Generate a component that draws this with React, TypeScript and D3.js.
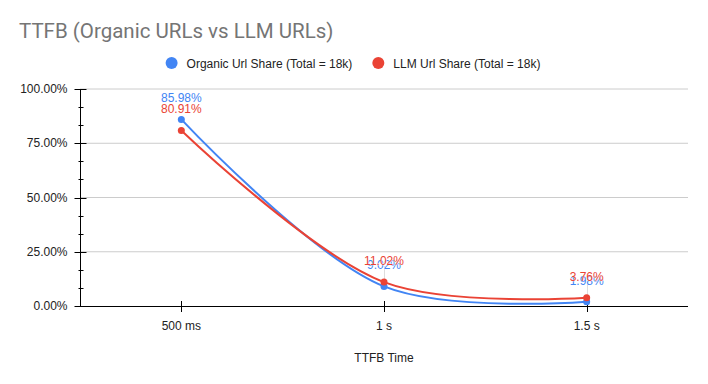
import React, { useEffect, useRef } from 'react';
import * as d3 from 'd3';

const categories = ['500 ms', '1 s', '1.5 s'];
const organicShare = [85.98, 9.02, 1.98];
const llmShare = [80.91, 11.02, 3.76];
const yTicks = [0, 25, 50, 75, 100];

const seriesList = [
  { name: 'Organic Url Share (Total = 18k)', values: organicShare, color: '#4285f4' },
  { name: 'LLM Url Share (Total = 18k)', values: llmShare, color: '#ea4335' },
];

const App = () => {
  const svgRef = useRef<SVGSVGElement>(null);

  useEffect(() => {
    const svg = d3.select(svgRef.current);
    svg.selectAll('*').remove();

    const width = 708;
    const height = 384;
    const margin = { top: 89, right: 20, bottom: 78, left: 80 };
    const font = 'Arial, "Liberation Sans", sans-serif';

    const x = d3.scalePoint<string>()
      .domain(categories)
      .range([margin.left, width - margin.right])
      .padding(0.5);

    const y = d3.scaleLinear()
      .domain([0, 100])
      .range([height - margin.bottom, margin.top]);

    svg.attr('width', width).attr('height', height);

    // title
    svg.append('text')
      .attr('x', 19)
      .attr('y', 38)
      .attr('font-family', 'Roboto, Arial, sans-serif')
      .attr('font-size', 20.5)
      .attr('fill', '#757575')
      .text('TTFB (Organic URLs vs LLM URLs)');

    // legend
    const legend = svg.append('g');
    let lx = 0;
    seriesList.forEach(s => {
      const item = legend.append('g').attr('transform', `translate(${lx},0)`);
      item.append('circle').attr('cx', 6).attr('cy', 0).attr('r', 6).attr('fill', s.color);
      const t = item.append('text')
        .attr('x', 21)
        .attr('y', 4.5)
        .attr('font-family', font)
        .attr('font-size', 12)
        .attr('fill', '#222')
        .text(s.name);
      const w = (t.node() as SVGTextElement).getComputedTextLength();
      lx += 21 + w + 20;
    });
    const legendWidth = lx - 20;
    legend.attr('transform', `translate(${(width - legendWidth) / 2 - 1},63)`);

    // gridlines
    svg.append('g')
      .selectAll('line')
      .data(yTicks.filter(d => d > 0))
      .join('line')
      .attr('x1', margin.left)
      .attr('x2', width - margin.right)
      .attr('y1', d => y(d))
      .attr('y2', d => y(d))
      .attr('stroke', '#cccccc')
      .attr('stroke-width', 1);

    // y axis
    const yAxis = svg.append('g').attr('transform', `translate(${margin.left + 0.5},0)`);
    yAxis.append('line')
      .attr('y1', y(100))
      .attr('y2', y(0))
      .attr('stroke', '#000');
    const minor = d3.range(0, 100, 25 / 3).filter((d, i) => i % 3 !== 0);
    yAxis.selectAll('line.minor')
      .data(minor)
      .join('line')
      .attr('class', 'minor')
      .attr('x1', -2)
      .attr('x2', 3)
      .attr('y1', d => Math.round(y(d)) + 0.5)
      .attr('y2', d => Math.round(y(d)) + 0.5)
      .attr('stroke', '#000');
    yAxis.selectAll('line.major')
      .data(yTicks)
      .join('line')
      .attr('class', 'major')
      .attr('x1', -6)
      .attr('x2', 6)
      .attr('y1', d => Math.round(y(d)) + 0.5)
      .attr('y2', d => Math.round(y(d)) + 0.5)
      .attr('stroke', '#000');
    yAxis.selectAll('text')
      .data(yTicks)
      .join('text')
      .attr('x', -13)
      .attr('y', d => y(d) + 4)
      .attr('text-anchor', 'end')
      .attr('font-family', font)
      .attr('font-size', 12)
      .attr('fill', '#222')
      .text(d => `${d.toFixed(2)}%`);

    // x axis
    const xAxis = svg.append('g');
    xAxis.append('line')
      .attr('x1', margin.left)
      .attr('x2', width - margin.right)
      .attr('y1', y(0) + 0.5)
      .attr('y2', y(0) + 0.5)
      .attr('stroke', '#000');
    xAxis.selectAll('line.tick')
      .data(categories)
      .join('line')
      .attr('class', 'tick')
      .attr('x1', d => Math.round(x(d)!) + 0.5)
      .attr('x2', d => Math.round(x(d)!) + 0.5)
      .attr('y1', y(0) - 5)
      .attr('y2', y(0) + 6)
      .attr('stroke', '#000');
    xAxis.selectAll('text')
      .data(categories)
      .join('text')
      .attr('x', d => x(d)!)
      .attr('y', y(0) + 24)
      .attr('text-anchor', 'middle')
      .attr('font-family', font)
      .attr('font-size', 12)
      .attr('fill', '#222')
      .text(d => d);

    svg.append('text')
      .attr('x', (margin.left + width - margin.right) / 2)
      .attr('y', 362)
      .attr('text-anchor', 'middle')
      .attr('font-family', font)
      .attr('font-size', 12)
      .attr('fill', '#222')
      .text('TTFB Time');

    // leader lines for crowded labels
    svg.append('g')
      .selectAll('line')
      .data(categories.slice(1))
      .join('line')
      .attr('x1', d => Math.round(x(d)!) + 0.5)
      .attr('x2', d => Math.round(x(d)!) + 0.5)
      .attr('y1', (d, i) => y(llmShare[i + 1]) - 16)
      .attr('y2', (d, i) => y(organicShare[i + 1]))
      .attr('stroke', '#dddddd')
      .attr('stroke-width', 1);

    const line = d3.line<number>()
      .x((d, i) => x(categories[i])!)
      .y(d => y(d))
      .curve(d3.curveCatmullRom.alpha(0.5));

    seriesList.forEach(s => {
      svg.append('path')
        .datum(s.values)
        .attr('d', line)
        .attr('fill', 'none')
        .attr('stroke', s.color)
        .attr('stroke-width', 2);
    });

    seriesList.forEach(s => {
      svg.append('g')
        .selectAll('circle')
        .data(s.values)
        .join('circle')
        .attr('cx', (d, i) => x(categories[i])!)
        .attr('cy', d => y(d))
        .attr('r', 3.5)
        .attr('fill', s.color);
    });

    // organic labels first so the LLM labels sit on top, as in the source
    seriesList.forEach(s => {
      svg.append('g')
        .selectAll('text')
        .data(s.values)
        .join('text')
        .attr('x', (d, i) => x(categories[i])!)
        .attr('y', d => y(d) - 17)
        .attr('text-anchor', 'middle')
        .attr('font-family', font)
        .attr('font-size', 12)
        .attr('fill', s.color)
        .attr('stroke', '#fff')
        .attr('stroke-width', 0.6)
        .attr('paint-order', 'stroke')
        .text(d => `${d.toFixed(2)}%`);
    });
  }, []);

  return <svg ref={svgRef} style={{ display: 'block', position: 'absolute', left: 0, top: 0 }} />;
};

export default App;
